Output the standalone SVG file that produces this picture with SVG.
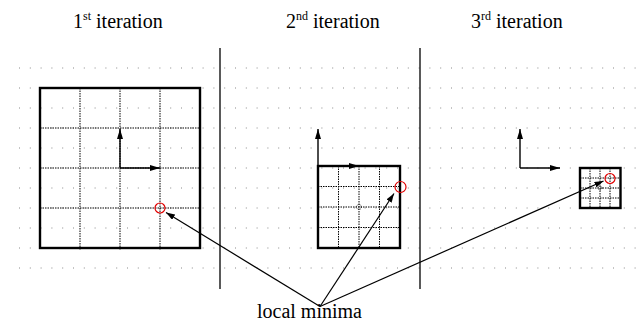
<svg xmlns="http://www.w3.org/2000/svg" width="641" height="321" viewBox="0 0 641 321">
<style>
.dots{stroke:#8a8a8a;stroke-width:1;stroke-dasharray:1 9.8;fill:none}
.box{fill:none;stroke:#000;stroke-width:2.4}
.grid{stroke:#000;stroke-width:1;stroke-dasharray:1.5 1;fill:none}
.axis{stroke:#000;stroke-width:1.4;fill:none}
.div{stroke:#000;stroke-width:1.3}
.min{fill:none;stroke:#e00000;stroke-width:1.2}
.ctr{fill:none;stroke:#000;stroke-width:0.8;stroke-dasharray:1 1}
.conn{stroke:#000;stroke-width:1.2;fill:none}
</style>
<defs>
<marker id="ah" viewBox="0 0 10 6" refX="10" refY="3" markerWidth="10" markerHeight="6" markerUnits="userSpaceOnUse" orient="auto">
<path d="M0,0 L10,3 L0,6 z" fill="#000"/>
</marker>
<marker id="ahs" viewBox="0 0 9 6" refX="9" refY="3" markerWidth="9" markerHeight="6" markerUnits="userSpaceOnUse" orient="auto">
<path d="M0,0 L9,3 L0,6 z" fill="#000"/>
</marker>
</defs>
<rect width="641" height="321" fill="#fff"/>
<g id="background-dots">
<path class="dots" d="M19,68H641M19,88H641M19,108H641M19,128H641M19,148H641M19,168H641M19,188H641M19,208H641M19,228H641M19,248H641M19,268H641"/>
</g>
<g id="dividers">
<line class="div" x1="220" y1="48" x2="220" y2="289"/>
<line class="div" x1="420" y1="48" x2="420" y2="289"/>
</g>
<g font-family="'Liberation Serif', 'Times New Roman', 'DejaVu Serif', serif" font-size="20" fill="#000">
<g id="title1"><text x="73" y="28">1<tspan font-size="12" dy="-8">st</tspan><tspan dy="8"> iteration</tspan></text></g>
<g id="title2"><text x="286" y="28">2<tspan font-size="12" dy="-8">nd</tspan><tspan dy="8"> iteration</tspan></text></g>
<g id="title3"><text x="471" y="28">3<tspan font-size="12" dy="-8">rd</tspan><tspan dy="8"> iteration</tspan></text></g>
<g id="label-local-minima"><text x="257" y="317.5">local minima</text></g>
</g>

<g id="box1">
<path class="grid" d="M80,88V250M120,88V250M160,88V250M40,128H200M40,168H200M40,208H200"/>
<rect class="box" x="40" y="88" width="160" height="160"/>
<path class="axis" d="M120,168V129" marker-end="url(#ah)"/>
<path class="axis" d="M120,168H160" marker-end="url(#ah)"/>
<circle class="min" cx="160" cy="208" r="5"/>
</g>

<g id="box2">
<path class="grid" d="M338.5,166V248M359,166V248M379.5,166V248M318,186.5H400M318,207H400M318,227.5H400"/>
<circle class="ctr" cx="359" cy="207" r="2.5"/>
<rect class="box" x="318" y="166" width="82" height="82"/>
<path class="axis" d="M318,166V129" marker-end="url(#ah)"/>
<path class="axis" d="M318,166H359" marker-end="url(#ah)"/>
<circle class="min" cx="400.5" cy="187" r="5.5"/>
</g>

<g id="box3">
<path class="grid" d="M590,168V208M600,168V208M610,168V208M580,178H620M580,188H620M580,198H620"/>
<circle class="ctr" cx="600" cy="188" r="2"/>
<rect class="box" x="580" y="168" width="40.5" height="40"/>
<path class="axis" d="M520,168V129" marker-end="url(#ah)"/>
<path class="axis" d="M520,168H560" marker-end="url(#ah)"/>
<circle class="min" cx="610" cy="178.5" r="5"/>
</g>

<g id="connectors">
<line class="conn" x1="320" y1="306.5" x2="166" y2="212.5" marker-end="url(#ahs)"/>
<line class="conn" x1="320" y1="306.5" x2="394" y2="193.5" marker-end="url(#ahs)"/>
<line class="conn" x1="320" y1="306.5" x2="603.5" y2="181" marker-end="url(#ahs)"/>
</g>
</svg>
